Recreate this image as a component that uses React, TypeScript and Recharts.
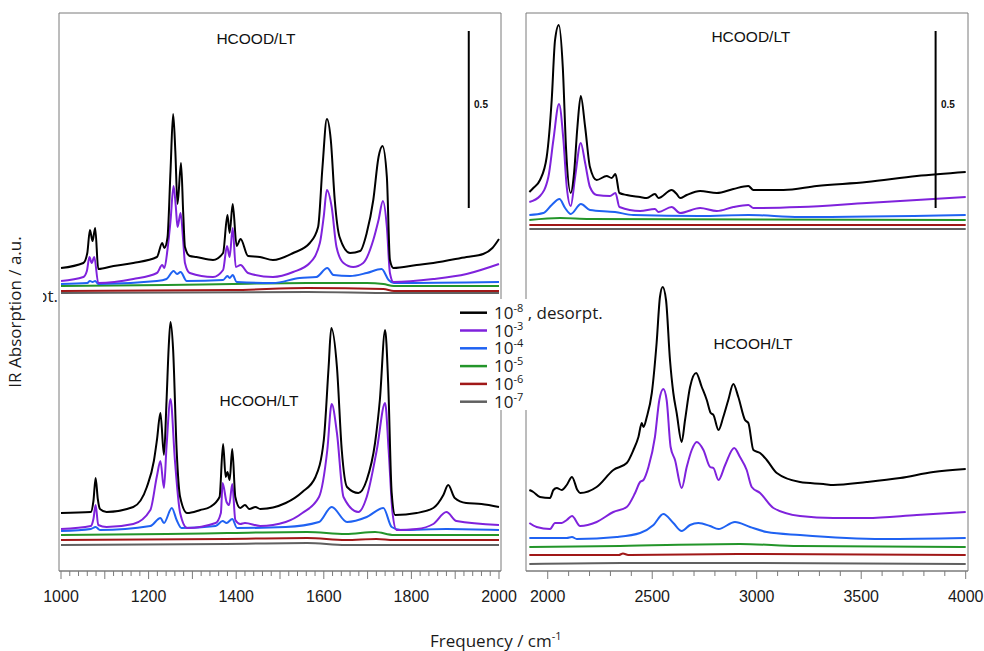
import React from "react";
import { LineChart, Line, XAxis, YAxis, ReferenceArea, ReferenceLine, ReferenceDot } from "recharts";

type Pair = [number, number];

// frequency (cm-1) vs. absorbance in arbitrary units, stacking offsets included
// ---- 1000-2000 cm-1, HCOOD/LT ----
const lowDBlack: Pair[] = [
  [1000, 303], [1051, 308], [1060, 318], [1066, 341], [1072, 330], [1078, 343], [1085, 302], [1120, 305],
  [1165, 308], [1219, 314], [1231, 328], [1236, 323], [1243, 333], [1250, 400], [1256, 457], [1261, 420],
  [1266, 367], [1274, 408], [1279, 358], [1283, 324], [1294, 315], [1309, 314], [1347, 311], [1370, 318],
  [1380, 356], [1385, 338], [1392, 367], [1401, 325], [1410, 332], [1427, 315], [1454, 314], [1484, 311],
  [1530, 318], [1568, 328], [1587, 344], [1597, 404], [1607, 452], [1616, 431], [1625, 371], [1636, 334],
  [1660, 318], [1683, 320], [1698, 338], [1713, 371], [1725, 414], [1734, 425], [1744, 394], [1751, 311],
  [1759, 303], [1812, 306], [1850, 308], [1926, 314], [1964, 317], [1985, 323], [2000, 332],
];
const lowDPurple: Pair[] = [
  [1000, 290], [1051, 294], [1059, 300], [1065, 314], [1070, 308], [1076, 314], [1085, 288], [1165, 292],
  [1219, 298], [1231, 306], [1236, 303], [1243, 321], [1250, 350], [1257, 385], [1262, 365], [1266, 344],
  [1273, 358], [1279, 330], [1283, 308], [1294, 298], [1347, 294], [1370, 301], [1379, 325], [1385, 314],
  [1392, 343], [1399, 304], [1410, 306], [1427, 298], [1484, 294], [1530, 299], [1568, 308], [1591, 328],
  [1600, 355], [1607, 381], [1618, 364], [1629, 324], [1645, 308], [1667, 304], [1690, 308], [1713, 331],
  [1725, 351], [1735, 370], [1744, 344], [1751, 298], [1759, 289], [1850, 292], [1926, 297], [2000, 307],
];
const lowDBlue: Pair[] = [
  [1000, 287], [1060, 288], [1066, 290], [1072, 289], [1078, 290], [1085, 287], [1219, 290], [1241, 292],
  [1257, 300], [1265, 297], [1273, 299], [1287, 290], [1370, 291], [1380, 295], [1385, 293], [1392, 296],
  [1401, 289], [1484, 288], [1545, 293], [1583, 294], [1608, 303], [1622, 296], [1660, 295], [1698, 298],
  [1732, 302], [1748, 291], [1760, 288], [2000, 289],
];
const lowDGreen: Pair[] = [[1000, 285], [1241, 286], [1392, 287], [1562, 288], [1698, 288], [1736, 287], [1760, 285], [2000, 285]];
const lowDRed: Pair[] = [[1000, 280], [1392, 281], [1562, 283], [1736, 282], [1760, 280], [2000, 280]];
const lowDGray: Pair[] = [[1000, 278], [1562, 279], [1760, 278], [2000, 278]];

// ---- 1000-2000 cm-1, HCOOH/LT ----
const lowHBlack: Pair[] = [
  [1000, 58], [1068, 59], [1074, 70], [1079, 93], [1084, 72], [1089, 62], [1104, 59], [1165, 64],
  [1196, 84], [1212, 110], [1219, 131], [1227, 158], [1235, 116], [1241, 171], [1246, 225], [1250, 249],
  [1256, 221], [1264, 121], [1272, 74], [1288, 58], [1318, 61], [1340, 64], [1362, 74], [1370, 127],
  [1376, 94], [1380, 99], [1385, 91], [1391, 122], [1398, 74], [1409, 63], [1420, 66], [1430, 62],
  [1444, 64], [1455, 62], [1513, 68], [1551, 79], [1581, 94], [1600, 131], [1611, 204], [1617, 243],
  [1630, 204], [1641, 121], [1653, 84], [1679, 78], [1698, 91], [1717, 128], [1728, 171], [1740, 241],
  [1747, 188], [1755, 78], [1763, 56], [1812, 58], [1850, 63], [1873, 76], [1884, 86], [1899, 73],
  [1925, 68], [1960, 67], [2000, 64],
];
const lowHPurple: Pair[] = [
  [1000, 42], [1068, 45], [1074, 52], [1079, 66], [1085, 46], [1104, 44], [1165, 47], [1204, 61],
  [1219, 95], [1227, 110], [1235, 83], [1241, 125], [1250, 172], [1260, 111], [1272, 58], [1288, 43],
  [1353, 48], [1365, 58], [1369, 88], [1378, 69], [1384, 66], [1391, 87], [1398, 51], [1409, 47],
  [1420, 48], [1455, 45], [1513, 49], [1551, 58], [1589, 74], [1608, 121], [1618, 167], [1630, 138],
  [1645, 74], [1679, 59], [1698, 74], [1721, 121], [1740, 168], [1748, 121], [1757, 58], [1766, 41],
  [1812, 42], [1850, 47], [1880, 59], [1903, 50], [2000, 46],
];
const lowHBlue: Pair[] = [
  [1000, 40], [1068, 42], [1079, 44], [1089, 41], [1204, 45], [1227, 53], [1235, 48], [1253, 63],
  [1264, 51], [1275, 43], [1353, 45], [1369, 50], [1378, 48], [1391, 52], [1402, 43], [1513, 44],
  [1589, 49], [1618, 64], [1653, 49], [1698, 54], [1736, 63], [1755, 44], [1775, 41], [1880, 42], [2000, 41],
];
const lowHGreen: Pair[] = [[1000, 36], [1241, 37], [1380, 38], [1562, 39], [1650, 37], [1717, 39], [1760, 36], [2000, 36]];
const lowHRed: Pair[] = [[1000, 31], [1376, 32], [1562, 33], [1650, 31], [1720, 32], [1760, 31], [2000, 31]];
const lowHGray: Pair[] = [[1000, 26], [1376, 27], [1562, 28], [1650, 26], [2000, 26]];

// ---- 1900-4000 cm-1, HCOOD/LT ----
const highDBlack: Pair[] = [
  [1912, 379], [1931, 383], [1963, 391], [1995, 414], [2019, 471], [2035, 531], [2053, 546], [2072, 504],
  [2088, 421], [2110, 378], [2126, 398], [2142, 444], [2158, 475], [2179, 444], [2202, 404], [2234, 391],
  [2282, 395], [2306, 393], [2324, 397], [2343, 378], [2378, 376], [2442, 374], [2474, 373], [2513, 377],
  [2530, 373], [2593, 381], [2617, 377], [2633, 373], [2665, 376], [2729, 380], [2809, 378], [2888, 382],
  [2960, 385], [2984, 381], [3128, 381], [3287, 385], [3526, 389], [3766, 395], [4000, 399],
];
const highDPurple: Pair[] = [
  [1912, 369], [1963, 375], [2003, 394], [2027, 431], [2054, 467], [2075, 431], [2091, 384], [2110, 365],
  [2131, 394], [2158, 428], [2179, 408], [2202, 384], [2234, 376], [2298, 375], [2324, 378], [2343, 364],
  [2442, 360], [2513, 362], [2530, 359], [2593, 364], [2633, 358], [2729, 363], [2809, 360], [2888, 364],
  [2960, 366], [2984, 363], [3207, 364], [3526, 368], [3766, 371], [4000, 374],
];
const highDBlue: Pair[] = [
  [1912, 356], [1979, 358], [2019, 366], [2056, 372], [2083, 363], [2110, 357], [2159, 367], [2202, 361],
  [2322, 359], [2410, 356], [2729, 355], [2960, 356], [3207, 354], [4000, 356],
];
const highDGreen: Pair[] = [[1912, 351], [2059, 353], [2200, 352], [4000, 351]];
const highDRed: Pair[] = [[1912, 346], [4000, 346]];
const highDGray: Pair[] = [[1912, 342], [4000, 342]];

// ---- 1900-4000 cm-1, HCOOH/LT ----
const highHBlack: Pair[] = [
  [1912, 81], [1931, 79], [1963, 74], [2011, 73], [2027, 81], [2043, 83], [2067, 81], [2091, 86],
  [2116, 94], [2142, 81], [2155, 78], [2234, 84], [2314, 101], [2378, 108], [2410, 121], [2434, 134],
  [2450, 148], [2458, 144], [2474, 154], [2498, 178], [2521, 228], [2537, 274], [2550, 284], [2566, 271],
  [2585, 211], [2601, 178], [2617, 158], [2641, 129], [2657, 151], [2681, 184], [2710, 198], [2737, 184],
  [2761, 171], [2780, 158], [2793, 156], [2817, 141], [2840, 154], [2864, 171], [2888, 187], [2912, 174],
  [2944, 151], [2960, 148], [2984, 121], [3016, 118], [3048, 111], [3096, 98], [3207, 89], [3319, 87],
  [3367, 86], [3526, 89], [3686, 93], [3845, 99], [4000, 102],
];
const highHPurple: Pair[] = [
  [1912, 48], [1947, 44], [2011, 42], [2035, 48], [2067, 48], [2091, 51], [2116, 55], [2155, 45],
  [2234, 49], [2314, 59], [2378, 64], [2418, 78], [2442, 89], [2458, 91], [2482, 104], [2513, 134],
  [2534, 171], [2553, 182], [2569, 171], [2588, 124], [2609, 111], [2641, 83], [2665, 104], [2689, 121],
  [2713, 129], [2745, 121], [2777, 104], [2793, 103], [2817, 91], [2849, 106], [2892, 123], [2920, 114],
  [2952, 101], [2976, 84], [3016, 78], [3080, 63], [3207, 55], [3367, 53], [3526, 53], [3766, 56], [4000, 59],
];
const highHBlue: Pair[] = [
  [1912, 33], [2091, 33], [2116, 34], [2139, 32], [2330, 34], [2442, 38], [2506, 46], [2553, 57],
  [2601, 48], [2641, 40], [2681, 46], [2721, 48], [2777, 45], [2817, 42], [2896, 49], [2968, 44],
  [3048, 39], [3207, 36], [3606, 32], [4000, 33],
];
const highHGreen: Pair[] = [[1912, 24], [2346, 25], [2920, 27], [3200, 25], [4000, 24]];
const highHRed: Pair[] = [[1912, 16], [2340, 16], [2360, 17.5], [2385, 16], [2920, 17], [4000, 16]];
const highHGray: Pair[] = [[1912, 7], [2354, 8], [2920, 8], [4000, 7]];

// legend: pressures (mbar)
const legendExps = ["-8", "-3", "-4", "-5", "-6", "-7"];
const legendSuffix = [" , desorpt.", "", "", "", "", ""];

const lowTicks = Array.from({ length: 51 }, (_, i) => 1000 + i * 20);
const highTicks = Array.from({ length: 21 }, (_, i) => 2000 + i * 100);

const C = {
  black: "#000000",
  purple: "#7f22dc",
  blue: "#1f62f2",
  green: "#23952a",
  red: "#a01818",
  gray: "#606060",
};
const legendColors = [C.black, C.purple, C.blue, C.green, C.red, C.gray];

const Y_MAX = 558;
const toPts = (arr: Pair[]) => arr.map(([f, a]) => ({ f, a }));

const group = (k: Pair[], p: Pair[], b: Pair[], g: Pair[], r: Pair[], gr: Pair[]) => [
  { color: C.gray, data: gr },
  { color: C.red, data: r },
  { color: C.green, data: g },
  { color: C.blue, data: b },
  { color: C.purple, data: p },
  { color: C.black, data: k },
];

const makeTick = (labelEvery: number, longEvery: number) => (props: any) => {
  const { x, y, payload } = props;
  const v = payload.value;
  return (
    <g>
      <line x1={x} x2={x} y1={y} y2={y + (v % longEvery === 0 ? 8 : 5)} stroke="#7a7a7a" />
      {v % labelEvery === 0 && (
        <text x={x} y={y + 31} textAnchor="middle" fontSize={16} fontFamily="'Liberation Sans', Arial, sans-serif" fill="#1a1a1a">
          {v}
        </text>
      )}
    </g>
  );
};

type Lbl = { f: number; a: number; text: string; size: number; bold?: boolean };

function Panel(props: {
  left: number;
  width: number;
  ml: number;
  mr: number;
  domain: [number, number];
  ticks: number[];
  tick: any;
  series: { color: string; data: Pair[] }[];
  barX: number;
  labels: Lbl[];
}) {
  const { left, width, ml, mr, domain, ticks, tick, series, barX, labels } = props;
  return (
    <div style={{ position: "absolute", left, top: 0 }}>
      <LineChart width={width} height={651} margin={{ top: 13, left: ml, right: mr, bottom: 50 }}>
        <XAxis
          dataKey="f"
          type="number"
          domain={domain}
          allowDataOverflow
          ticks={ticks}
          interval={0}
          tick={tick}
          tickLine={false}
          tickSize={0}
          tickMargin={0}
          height={30}
          axisLine={{ stroke: "#7a7a7a" }}
        />
        <YAxis hide type="number" domain={[0, Y_MAX]} allowDataOverflow />
        <ReferenceArea x1={domain[0]} x2={domain[1]} y1={0} y2={Y_MAX} fill="none" stroke="#7a7a7a" ifOverflow="visible" />
        {series.map((s, i) => (
          <Line
            key={i}
            data={toPts(s.data)}
            dataKey="a"
            type="monotone"
            stroke={s.color}
            strokeWidth={2}
            dot={false}
            isAnimationActive={false}
          />
        ))}
        <ReferenceLine segment={[{ x: barX, y: 363 }, { x: barX, y: 540 }]} stroke="#000" strokeWidth={2} ifOverflow="visible" />
        {labels.map((l, i) => (
          <ReferenceDot
            key={"l" + i}
            x={l.f}
            y={l.a}
            r={1}
            ifOverflow="visible"
            shape={(p: any) => (
              <text
                x={p.cx}
                y={p.cy}
                textAnchor="middle"
                dominantBaseline="central"
                fontSize={l.size}
                fontWeight={l.bold ? 700 : 400}
                fontFamily="'Liberation Sans', Arial, sans-serif"
                fill="#111"
              >
                {l.text}
              </text>
            )}
          />
        ))}
      </LineChart>
    </div>
  );
}

export default function App() {
  const font = "'Open Sans', 'DejaVu Sans', sans-serif";
  return (
    <div style={{ position: "fixed", left: 0, top: 0, width: 984, height: 651, background: "#fff" }}>
      <Panel
        left={0}
        width={520}
        ml={59}
        mr={19}
        domain={[995.4, 2004.6]}
        ticks={lowTicks}
        tick={makeTick(200, 100)}
        series={[
          ...group(lowDBlack, lowDPurple, lowDBlue, lowDGreen, lowDRed, lowDGray),
          ...group(lowHBlack, lowHPurple, lowHBlue, lowHGreen, lowHRed, lowHGray),
        ]}
        barX={1931}
        labels={[
          { f: 1445, a: 533, text: "HCOOD/LT", size: 15.5 },
          { f: 1452, a: 171, text: "HCOOH/LT", size: 15.5 },
          { f: 1959, a: 467, text: "0.5", size: 10, bold: true },
        ]}
      />
      <Panel
        left={500}
        width={484}
        ml={26}
        mr={16}
        domain={[1896, 4011]}
        ticks={highTicks}
        tick={makeTick(500, 500)}
        series={[
          ...group(highDBlack, highDPurple, highDBlue, highDGreen, highDRed, highDGray),
          ...group(highHBlack, highHPurple, highHBlue, highHGreen, highHRed, highHGray),
        ]}
        barX={3856}
        labels={[
          { f: 2972, a: 535, text: "HCOOD/LT", size: 15.5 },
          { f: 2982, a: 228, text: "HCOOH/LT", size: 15.5 },
          { f: 3915, a: 467, text: "0.5", size: 10, bold: true },
        ]}
      />
      <svg width={984} height={651} style={{ position: "absolute", left: 0, top: 0, pointerEvents: "none" }}>
        <defs>
          <clipPath id="cutText">
            <rect x={43} y={285} width={15} height={25} />
          </clipPath>
        </defs>
        <text x={58} y={302} textAnchor="end" fontSize={17} fontFamily={font} fill="#222" clipPath="url(#cutText)">
          desorpt.
        </text>
        <rect x={455} y={299} width={142} height={111} fill="#fff" />
        {legendExps.map((e, i) => {
          const y = 312.7 + 17.8 * i;
          return (
            <g key={e}>
              <line x1={460} x2={487} y1={y} y2={y} stroke={legendColors[i]} strokeWidth={2.5} />
              <text x={494} y={y + 6} fontSize={17} fontFamily={font} fill="#1a1a1a">
                10
                <tspan fontSize={11} dy={-7}>{e}</tspan>
                {legendSuffix[i] && <tspan dy={7}>{legendSuffix[i]}</tspan>}
              </text>
            </g>
          );
        })}
        <text x={21} y={312} transform="rotate(-90 21 312)" textAnchor="middle" fontSize={17} fontFamily={font} fill="#1a1a1a">
          IR Absorption / a.u.
        </text>
        <text x={430} y={647} fontSize={17} fontFamily={font} fill="#1a1a1a">
          Frequency / cm
          <tspan fontSize={11} dy={-7}>-1</tspan>
        </text>
      </svg>
    </div>
  );
}
